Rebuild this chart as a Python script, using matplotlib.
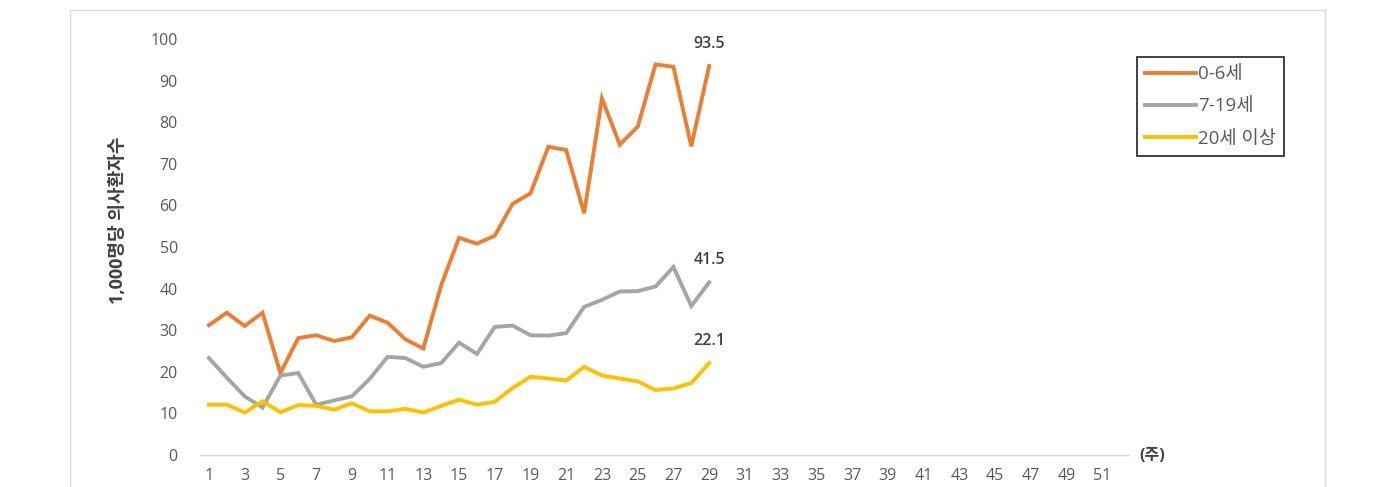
import matplotlib
matplotlib.use('Agg')
import matplotlib.pyplot as plt
from matplotlib.patches import Rectangle
from matplotlib.lines import Line2D

plt.rcParams['font.family'] = ['Open Sans', 'Noto Sans CJK KR', 'DejaVu Sans']

# weekly data (weeks 1-29)
weeks = list(range(1, 30))
age_0_6 = [31.2, 34.2, 31.0, 34.2, 19.7, 28.1, 28.8, 27.4, 28.3, 33.5, 31.8, 27.8, 25.6, 40.8,
           52.2, 50.8, 52.7, 60.4, 62.9, 74.1, 73.3, 58.1, 85.7, 74.6, 78.9, 93.9, 93.3, 74.2, 93.5]
age_7_19 = [23.3, 18.6, 14.1, 11.4, 19.1, 19.7, 12.1, 13.1, 14.1, 18.3, 23.6, 23.3, 21.2, 22.1,
            27.0, 24.3, 30.8, 31.1, 28.8, 28.7, 29.3, 35.6, 37.3, 39.3, 39.4, 40.5, 45.2, 35.8, 41.5]
age_20p = [12.1, 12.1, 10.2, 12.9, 10.3, 12.0, 11.8, 10.9, 12.4, 10.5, 10.5, 11.1, 10.2, 11.8,
           13.3, 12.1, 12.8, 16.1, 18.8, 18.4, 17.9, 21.2, 19.1, 18.4, 17.7, 15.6, 16.0, 17.3, 22.1]
series_names = ['0-6세', '7-19세', '20세 이상']
series_colors = ['#ED7D31', '#A5A5A5', '#FFC000']
end_labels = ['93.5', '41.5', '22.1']
x_ticks = list(range(1, 52, 2))
n_weeks = 52

W, H = 1385, 487
fig = plt.figure(figsize=(W / 100, H / 100), dpi=100)

# outer chart frame
fig.patches.append(Rectangle((70 / W, -0.05), 1255 / W, (H - 10) / H + 0.05,
                             transform=fig.transFigure, fill=False,
                             edgecolor='#D9D9D9', linewidth=1))

ax = fig.add_axes([200 / W, (H - 455) / H, 929 / W, 416 / H])
for vals, name, col, lab in zip([age_0_6, age_7_19, age_20p], series_names, series_colors, end_labels):
    ax.plot(weeks, vals, color=col, linewidth=2.8, label=name, solid_joinstyle='miter')
    ax.annotate(lab, (weeks[-1], vals[-1]), xytext=(0, 10), textcoords='offset points',
                ha='center', va='bottom', fontsize=11.5, color='#404040', fontweight='semibold')

ax.set_xlim(0.5, n_weeks + 0.5)
ax.set_ylim(0, 100)
ax.set_yticks(range(0, 101, 10))
ax.set_xticks(x_ticks)
ax.tick_params(axis='both', length=0, labelsize=11.5, labelcolor='#595959')
ax.tick_params(axis='x', pad=9)
ax.tick_params(axis='y', pad=16)
for s in ['top', 'right', 'left']:
    ax.spines[s].set_visible(False)
ax.spines['bottom'].set_color('#D9D9D9')
ax.spines['bottom'].set_linewidth(1)

fig.text(118 / W, 1 - 220 / H, '1,000명당 의사환자수', rotation=90, fontsize=13,
         color='#404040', fontweight='bold', ha='center', va='center')
fig.text(1152 / W, 1 - 456 / H, '(주)', fontsize=11.5, color='#404040', fontweight='bold',
         va='center', ha='center')

handles = [Line2D([], [], color=c, linewidth=2.8) for c in series_colors]
leg = fig.legend(handles, series_names, loc='upper left', bbox_to_anchor=(1137 / W, 1 - 57 / H),
                 frameon=True, fancybox=False, fontsize=13.5, handlelength=2.7, handletextpad=0.1,
                 labelspacing=0.75, borderpad=0.45, borderaxespad=0)
leg.get_frame().set_edgecolor('#000000')
leg.get_frame().set_linewidth(1.3)
for t in leg.get_texts():
    t.set_color('#595959')

fig.savefig('out.png', dpi=100)
